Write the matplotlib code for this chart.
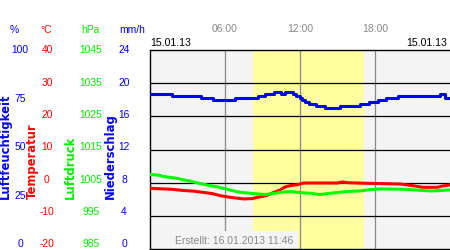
import matplotlib
matplotlib.use("Agg")
import matplotlib.pyplot as plt
from matplotlib.transforms import blended_transform_factory

plt.rcParams['font.family'] = ['Liberation Sans', 'DejaVu Sans']

# Luftfeuchtigkeit (%), step data
hum_t = [0, 1.76, 4.1, 5.0, 6.8, 8.6, 9.2, 9.9, 10.5, 10.8, 11.4, 11.7, 12.0, 12.15,
         12.4, 12.7, 13.3, 14.0, 15.2, 16.8, 17.5, 18.2, 18.9, 19.8, 23.2, 23.6, 24]
hum_v = [78, 77, 76, 75, 76, 77, 78, 79, 78, 79, 78, 77, 76, 75,
         74, 73, 72, 71, 72, 73, 74, 75, 76, 77, 78, 76, 76]

# Temperatur (°C)
temp_t = [0, 1.76, 2.5, 3.6, 4.4, 5.0, 5.6, 6.2, 6.8, 7.5, 8.2, 8.6, 9.3, 9.8,
          10.4, 10.8, 11.2, 11.8, 12.3, 15.0, 15.4, 15.8, 17.4, 20.0, 20.6,
          21.2, 21.8, 23.0, 23.4, 24]
temp_v = [-1.7, -2.0, -2.3, -2.6, -3.0, -3.3, -3.9, -4.3, -4.6, -4.9, -4.8, -4.4,
          -3.9, -3.1, -2.2, -1.3, -0.9, -0.6, -0.1, -0.1, 0.2, 0.0, -0.2, -0.4,
          -0.7, -1.0, -1.4, -1.4, -1.0, -0.7]

# Luftdruck (hPa)
pres_t = [0, 0.8, 1.0, 1.6, 2.2, 2.6, 3.2, 3.6, 4.2, 4.8, 5.4, 6.0, 6.6, 7.2,
          8.0, 9.2, 10.0, 10.6, 11.4, 12.0, 12.8, 13.6, 14.4, 15.6, 16.8, 17.6,
          18.4, 20.4, 21.2, 22.4, 23.2, 24]
pres_v = [1007.5, 1007.2, 1006.9, 1006.6, 1006.3, 1005.9, 1005.5, 1005.1, 1004.6,
          1004.1, 1003.7, 1003.2, 1002.6, 1002.1, 1001.8, 1001.4, 1001.8, 1002.2,
          1002.3, 1002.0, 1001.8, 1001.4, 1001.8, 1002.3, 1002.5, 1002.9, 1003.1,
          1003.0, 1002.8, 1002.5, 1002.6, 1002.8]

hum_ticks = [0, 25, 50, 75, 100]
temp_ticks = [-20, -10, 0, 10, 20, 30, 40]
pres_ticks = [985, 995, 1005, 1015, 1025, 1035, 1045]
rain_ticks = [0, 4, 8, 12, 16, 20, 24]
hour_ticks = [6, 12, 18]
hour_labels = ['06:00', '12:00', '18:00']
daylight = (8.2, 17.1)

W, H = 450, 250
fig = plt.figure(figsize=(4.5, 2.5), dpi=100)

def fx(px):
    return px / W

def fy(py):
    return 1 - py / H

# main frame
ax = fig.add_axes([fx(150), fy(249), 300 / W, 199 / H])
ax.set_facecolor('#f4f4f4')
ax.set_xlim(0, 24)
ax.set_ylim(-20, 40)
ax.axvspan(*daylight, color='#ffffa0', lw=0, zorder=0.5)
ax.set_yticks(temp_ticks[1:-1])
ax.set_yticklabels([])
ax.yaxis.grid(True, color='black', lw=0.9)
ax.set_xticks(hour_ticks)
ax.set_xticklabels(hour_labels, color='#888888', fontsize=7.5)
ax.xaxis.grid(True, color='#888888', lw=0.9)
ax.xaxis.tick_top()
ax.tick_params(axis='x', length=0, pad=11.5)
ax.tick_params(axis='y', length=0)
for s in ['left', 'top', 'bottom']:
    ax.spines[s].set_color('black')
    ax.spines[s].set_linewidth(1)
ax.spines['right'].set_visible(False)

ax.text(25 / 300, 8 / 199, 'Erstellt: 16.01.2013 11:46', transform=ax.transAxes,
        ha='left', va='center', fontsize=7.5, color='#888888', zorder=1.8,
        bbox=dict(facecolor='#f4f4f4', edgecolor='none', pad=3.5))

# data axes share the frame
ax_h = ax.twinx()
ax_h.set_ylim(0, 100)
ax_t = ax.twinx()
ax_t.set_ylim(-20, 40)
ax_p = ax.twinx()
ax_p.set_ylim(985, 1045)
for a in (ax_h, ax_t, ax_p):
    a.set_yticks([])
    for s in a.spines.values():
        s.set_visible(False)

ax_h.plot(hum_t, hum_v, color='#0000ff', lw=2.2, drawstyle='steps-post')
ax_p.plot(pres_t, pres_v, color='#00ff00', lw=2.2)
ax_t.plot(temp_t, temp_v, color='#ff0000', lw=2.2)

# scale labels on the left (slightly compressed as in the original)
def scale_axis(lo, hi, ticks, color, xc):
    a = fig.add_axes([fx(150), fy(244.3), 300 / W, 194 / H])
    a.set_axis_off()
    a.set_ylim(lo, hi)
    tr = blended_transform_factory(a.transAxes, a.transData)
    for t in ticks:
        a.text((xc - 150) / 300, t, str(t), transform=tr, color=color,
               fontsize=7.4, ha='center', va='center', clip_on=False)
    return a

scale_axis(0, 100, hum_ticks, '#0000ff', 20)
scale_axis(-20, 40, temp_ticks, '#ff0000', 47)
scale_axis(985, 1045, pres_ticks, '#00ee00', 91)
scale_axis(0, 24, rain_ticks, '#0000ff', 124)

# unit headers
fig.text(fx(14), fy(30), '%', color='#0000ff', fontsize=7.4, ha='center', va='center')
fig.text(fx(46), fy(30), '°C', color='#ff0000', fontsize=7.4, ha='center', va='center')
fig.text(fx(90), fy(30), 'hPa', color='#00ee00', fontsize=7.4, ha='center', va='center')
fig.text(fx(132), fy(30), 'mm/h', color='#0000ff', fontsize=7.4, ha='center', va='center')

# axis titles
for label, color, xc in [('Luftfeuchtigkeit', '#0000ff', 5.5), ('Temperatur', '#ff0000', 32),
                         ('Luftdruck', '#00ee00', 70), ('Niederschlag', '#0000ff', 110)]:
    fig.text(fx(xc), fy(199), label, color=color, rotation=90, ha='center', va='bottom',
             fontsize=8.4, fontweight='bold', family='DejaVu Sans')

# dates
fig.text(fx(150), fy(43), '15.01.13', fontsize=7.6, ha='left', va='center', color='black')
fig.text(fx(447), fy(43), '15.01.13', fontsize=7.6, ha='right', va='center', color='black')

fig.savefig('out.png', dpi=100)
